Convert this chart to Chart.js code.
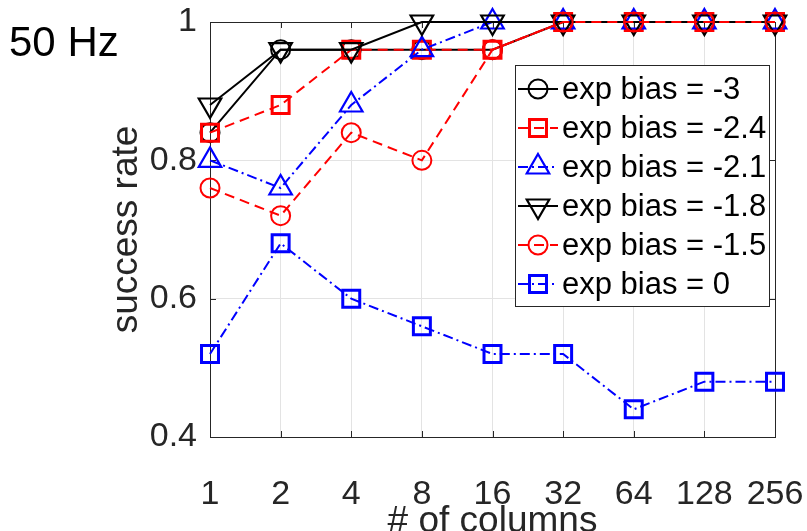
<!DOCTYPE html>
<html>
<head>
<meta charset="utf-8">
<script src="https://cdn.jsdelivr.net/npm/chart.js@4/dist/chart.umd.min.js"></script>
<style>
    html, body { margin: 0; padding: 0; background: #fff; }
    #wrap { width: 807px; height: 531px; position: relative; }
</style>
</head>
<body>
<div id="wrap"><canvas id="chart" width="807" height="531"></canvas></div>
<script>
// --- Data ---
const columns = ['1', '2', '4', '8', '16', '32', '64', '128', '256'];
const yTicks = [0.4, 0.6, 0.8, 1];
const bias3 = [0.84, 0.96, 0.96, 0.96, 0.96, 1, 1, 1, 1];
const bias24 = [0.84, 0.88, 0.96, 0.96, 0.96, 1, 1, 1, 1];
const bias21 = [0.80, 0.76, 0.88, 0.96, 1, 1, 1, 1, 1];
const bias18 = [0.88, 0.96, 0.96, 1, 1, 1, 1, 1, 1];
const bias15 = [0.76, 0.72, 0.84, 0.80, 0.96, 1, 1, 1, 1];
const bias0 = [0.52, 0.68, 0.60, 0.56, 0.52, 0.52, 0.44, 0.48, 0.48];
const seriesLabels = ['exp bias = -3', 'exp bias = -2.4', 'exp bias = -2.1', 'exp bias = -1.8', 'exp bias = -1.5', 'exp bias = 0'];

const FONT = "'Liberation Sans', Arial, sans-serif";
const AXIS_COLOR = '#262626';
const DASHED = [10, 6];
const DASHDOT = [10, 4, 2, 4];
// where the plot box sits in the original figure
const AREA = { left: 210, top: 22, right: 775, bottom: 437 };

// --- Series styles ---
const styles = [
    { data: bias3, color: '#000000', dash: [], point: 'circle', radius: 9.5, rot: 0, pbw: 2 },
    { data: bias24, color: '#ff0000', dash: DASHED, point: 'rect', radius: 12, rot: 0, pbw: 3 },
    { data: bias21, color: '#0000ff', dash: DASHDOT, point: 'triangle', radius: 13, rot: 0, pbw: 2.2 },
    { data: bias18, color: '#000000', dash: [], point: 'triangle', radius: 13, rot: 180, pbw: 2.2 },
    { data: bias15, color: '#ff0000', dash: DASHED, point: 'circle', radius: 9.5, rot: 0, pbw: 2 },
    { data: bias0, color: '#0000ff', dash: DASHDOT, point: 'rect', radius: 12, rot: 0, pbw: 3 }
];

const datasets = styles.map((s, i) => ({
    label: seriesLabels[i],
    data: s.data,
    borderColor: s.color,
    borderWidth: 2,
    borderDash: s.dash,
    backgroundColor: 'rgba(0,0,0,0)',
    pointStyle: s.point,
    pointRadius: s.radius,
    pointHoverRadius: s.radius,
    pointRotation: s.rot,
    pointBorderColor: s.color,
    pointBackgroundColor: 'rgba(0,0,0,0)',
    pointBorderWidth: s.pbw,
    tension: 0,
    fill: false,
    clip: false,
    order: 10 - i   // later series on top, like the original
}));

// --- Axes box with inward ticks ---
const boxPlugin = {
    id: 'box',
    beforeDatasetsDraw(chart) {
        const { ctx, chartArea: a, scales } = chart;
        ctx.save();
        ctx.strokeStyle = AXIS_COLOR;
        ctx.lineWidth = 1;
        ctx.setLineDash([]);
        ctx.strokeRect(Math.round(a.left) + 0.5, Math.round(a.top) + 0.5,
            Math.round(a.right - a.left), Math.round(a.bottom - a.top));
        ctx.beginPath();
        columns.forEach((c, i) => {
            const x = Math.round(scales.x.getPixelForValue(i)) + 0.5;
            ctx.moveTo(x, a.bottom); ctx.lineTo(x, a.bottom - 6);
            ctx.moveTo(x, a.top); ctx.lineTo(x, a.top + 6);
        });
        yTicks.forEach(v => {
            const y = Math.round(scales.y.getPixelForValue(v)) + 0.5;
            ctx.moveTo(a.left, y); ctx.lineTo(a.left + 6, y);
            ctx.moveTo(a.right, y); ctx.lineTo(a.right - 6, y);
        });
        ctx.stroke();
        ctx.restore();
    }
};

// --- Legend (line + marker) and corner label ---
function drawMarker(ctx, s, x, y) {
    const opts = { pointStyle: s.point, rotation: s.rot, radius: s.radius, borderWidth: s.pbw };
    ctx.fillStyle = 'rgba(0,0,0,0)';
    ctx.strokeStyle = s.color;
    ctx.lineWidth = s.pbw;
    ctx.setLineDash([]);
    Chart.helpers.drawPoint(ctx, opts, x, y);
}

const legendPlugin = {
    id: 'mlegend',
    afterDraw(chart) {
        const ctx = chart.ctx;
        const box = { x: 515, y: 65, w: 254, h: 241 };
        ctx.save();
        ctx.fillStyle = '#ffffff';
        ctx.fillRect(box.x, box.y, box.w, box.h);
        ctx.strokeStyle = AXIS_COLOR;
        ctx.lineWidth = 1;
        ctx.strokeRect(box.x + 0.5, box.y + 0.5, box.w, box.h);

        ctx.font = '31px ' + FONT;
        ctx.textBaseline = 'middle';
        ctx.textAlign = 'left';
        styles.forEach((s, i) => {
            const y = 89 + i * 39;
            ctx.strokeStyle = s.color;
            ctx.lineWidth = 2;
            ctx.setLineDash(s.dash);
            ctx.beginPath();
            ctx.moveTo(518, y); ctx.lineTo(558, y);
            ctx.stroke();
            drawMarker(ctx, s, 538, y);
            ctx.fillStyle = '#000000';
            ctx.fillText(seriesLabels[i], 562, y + 1);
        });

        ctx.font = '42px ' + FONT;
        ctx.textBaseline = 'alphabetic';
        ctx.fillStyle = '#000000';
        ctx.fillText('50 Hz', 9, 56);
        ctx.restore();
    }
};

// --- Chart ---
new Chart(document.getElementById('chart').getContext('2d'), {
    type: 'line',
    data: { labels: columns, datasets: datasets },
    options: {
        responsive: false,
        animation: false,
        devicePixelRatio: 1,
        layout: { padding: { top: AREA.top, right: 807 - AREA.right, left: 0, bottom: 0 } },
        plugins: { legend: { display: false }, tooltip: { enabled: false } },
        scales: {
            x: {
                type: 'category',
                offset: false,
                grid: { color: '#e3e3e3', lineWidth: 1, drawTicks: false },
                border: { display: false },
                ticks: { color: AXIS_COLOR, font: { family: FONT, size: 34 }, padding: 37, maxRotation: 0, autoSkip: false },
                title: { display: true, text: '# of columns', color: AXIS_COLOR,
                    font: { family: FONT, size: 37, lineHeight: 0.5 }, padding: { top: 0, bottom: 0 } },
                afterFit(scale) {
                    scale.height = 531 - AREA.bottom;
                    scale.paddingLeft = 0;
                    scale.paddingRight = 0;
                }
            },
            y: {
                min: 0.4,
                max: 1,
                grid: { color: '#e3e3e3', lineWidth: 1, drawTicks: false },
                border: { display: false },
                afterBuildTicks(scale) { scale.ticks = yTicks.map(v => ({ value: v })); },
                ticks: { color: AXIS_COLOR, font: { family: FONT, size: 34 }, padding: 13,
                    callback: v => String(+v.toFixed(1)) },
                title: { display: true, text: 'success rate', color: AXIS_COLOR,
                    font: { family: FONT, size: 37, lineHeight: 0.8 }, padding: { top: 112, bottom: 0 } },
                afterFit(scale) {
                    scale.width = AREA.left;
                    scale.paddingTop = 0;
                    scale.paddingBottom = 0;
                }
            }
        }
    },
    plugins: [boxPlugin, legendPlugin]
});
</script>
</body>
</html>
